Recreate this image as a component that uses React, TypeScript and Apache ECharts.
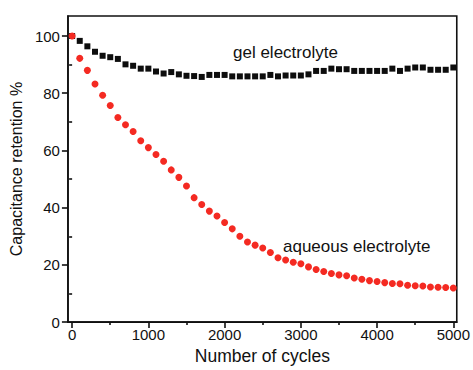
import React, { useEffect, useRef } from "react";
import * as echarts from "echarts";

const cycles = [
  0, 100, 200, 300, 400, 500, 600, 700, 800, 900, 1000, 1100, 1200, 1300, 1400, 1500, 1600, 1700,
  1800, 1900, 2000, 2100, 2200, 2300, 2400, 2500, 2600, 2700, 2800, 2900, 3000, 3100, 3200, 3300,
  3400, 3500, 3600, 3700, 3800, 3900, 4000, 4100, 4200, 4300, 4400, 4500, 4600, 4700, 4800, 4900,
  5000,
];

const gelRetention = [
  100, 98.3, 96.4, 94.5, 93.1, 92.6, 92.0, 90.1, 89.6, 88.6, 88.6, 87.6, 86.9, 87.4, 86.6, 86.1,
  86.0, 85.7, 86.4, 86.4, 86.4, 85.9, 85.9, 85.9, 85.9, 85.9, 86.4, 85.9, 86.2, 86.2, 86.2, 86.6,
  87.8, 87.8, 88.6, 88.4, 88.4, 87.8, 87.8, 87.8, 87.8, 87.8, 88.6, 87.8, 88.6, 89.0, 89.0, 88.2,
  88.2, 88.2, 89.0,
];

const aqueousRetention = [
  100, 92.2, 88.0, 83.2, 79.3, 75.7, 71.5, 69.0, 66.6, 63.4, 61.0, 58.6, 56.2, 53.2, 50.6, 47.6,
  43.5, 41.1, 38.8, 37.1, 34.8, 32.6, 30.0, 28.0, 26.9, 25.9, 24.3, 22.5, 21.7, 20.9, 20.4, 19.3,
  18.4, 17.7, 17.0, 16.5, 16.2, 15.4, 15.0, 14.5, 14.2, 13.8, 13.5, 13.4, 12.9, 12.7, 12.6, 12.3,
  12.2, 12.1, 11.9,
];

const xMajorTicks = [0, 1000, 2000, 3000, 4000, 5000];
const xMinorTicks = [500, 1500, 2500, 3500, 4500];
const yMajorTicks = [0, 20, 40, 60, 80, 100];
const yMinorTicks = [10, 30, 50, 70, 90];

const FONT = "Liberation Sans, Arial, Helvetica, sans-serif";
const TEXT = "#111";

export default function App() {
  const ref = useRef<HTMLDivElement>(null);
  useEffect(() => {
    if (!ref.current) return;
    const chart = echarts.init(ref.current, undefined, { renderer: "svg" });
    const xMin = -55;
    const xMax = 5045;
    const yMin = 0;
    const yMax = 107;
    const lineStyle = { color: "#111", width: 1.6 };
    chart.setOption({
      animation: false,
      backgroundColor: "#ffffff",
      grid: {
        left: 65,
        right: 12,
        top: 16,
        bottom: 42,
        show: true,
        borderColor: "#111",
        borderWidth: 1.6,
        backgroundColor: "transparent",
      },
      xAxis: [
        {
          type: "value",
          min: xMin,
          max: xMax,
          position: "bottom",
          splitLine: { show: false },
          axisLine: { show: true, onZero: false, lineStyle },
          axisTick: { show: true, customValues: xMajorTicks, length: 6, lineStyle },
          axisLabel: {
            customValues: xMajorTicks,
            formatter: (v: number) => String(v),
            margin: 5,
            fontSize: 15,
            color: TEXT,
            fontFamily: FONT,
          },
          name: "Number of cycles",
          nameLocation: "middle",
          nameGap: 23,
          nameTextStyle: { fontSize: 17.5, color: TEXT, fontFamily: FONT },
        },
        {
          type: "value",
          min: xMin,
          max: xMax,
          position: "bottom",
          splitLine: { show: false },
          axisLine: { show: false },
          axisTick: { show: true, customValues: xMinorTicks, length: 3, lineStyle },
          axisLabel: { show: false },
        },
      ],
      yAxis: [
        {
          type: "value",
          min: yMin,
          max: yMax,
          position: "left",
          splitLine: { show: false },
          axisLine: { show: true, onZero: false, lineStyle },
          axisTick: { show: true, customValues: yMajorTicks, length: 6, lineStyle },
          axisLabel: {
            customValues: yMajorTicks,
            margin: 8,
            fontSize: 15,
            color: TEXT,
            fontFamily: FONT,
          },
          name: "Capacitance retention %",
          nameLocation: "middle",
          nameGap: 32,
          nameTextStyle: { fontSize: 16, color: TEXT, fontFamily: FONT },
        },
        {
          type: "value",
          min: yMin,
          max: yMax,
          position: "left",
          splitLine: { show: false },
          axisLine: { show: false },
          axisTick: { show: true, customValues: yMinorTicks, length: 3, lineStyle },
          axisLabel: { show: false },
        },
      ],
      graphic: [
        {
          type: "text",
          left: 233,
          top: 44,
          style: { text: "gel electrolyte", fontSize: 17, fill: TEXT, fontFamily: FONT },
        },
        {
          type: "text",
          left: 283,
          top: 238,
          style: { text: "aqueous electrolyte", fontSize: 17, fill: TEXT, fontFamily: FONT },
        },
      ],
      series: [
        {
          name: "gel electrolyte",
          type: "scatter",
          xAxisIndex: 0,
          yAxisIndex: 0,
          symbol: "rect",
          symbolSize: 6,
          itemStyle: { color: "#0d0d0d", opacity: 1 },
          data: cycles.map((c, i) => [c, gelRetention[i]]),
        },
        {
          name: "aqueous electrolyte",
          type: "scatter",
          xAxisIndex: 0,
          yAxisIndex: 0,
          symbol: "circle",
          symbolSize: 7,
          itemStyle: { color: "#f42a22", opacity: 1 },
          data: cycles.map((c, i) => [c, aqueousRetention[i]]),
        },
      ],
    });
    return () => chart.dispose();
  }, []);
  return (
    <div
      ref={ref}
      style={{ position: "fixed", left: 0, top: 0, width: 473, height: 370, background: "#fff" }}
    />
  );
}
